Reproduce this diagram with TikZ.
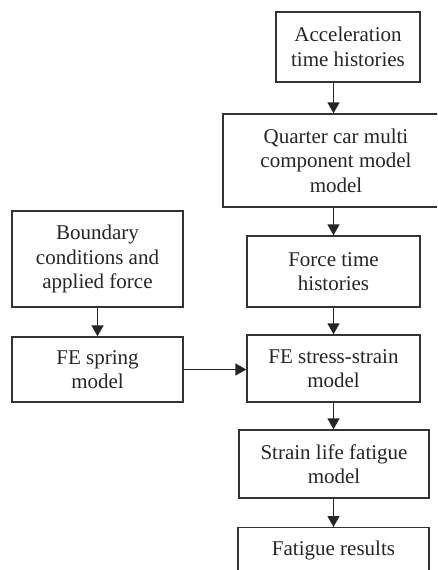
\documentclass[tikz,border=0pt]{standalone}
\usepackage{fontspec}
\setmainfont{Liberation Serif}
\usetikzlibrary{arrows.meta}
\begin{document}
\begin{tikzpicture}[x=1pt,y=-1pt,
  box/.style={draw=black!80, line width=1.4pt, align=center, inner sep=0pt,
    font=\fontsize{21}{24.5}\selectfont, text=black!85},
  arr/.style={draw=black!85, line width=1.5pt, -{Triangle[length=11pt,width=12pt]}}]
\clip (0,0) rectangle (437,570);
\fill[white] (0,0) rectangle (437,570);
\node[box, minimum width=144pt, minimum height=70pt] (acc) at (348,47) {Acceleration\\time histories};
\node[box, minimum width=226pt, minimum height=93pt] (quarter) at (336,160.5) {Quarter car multi\\component model\\model};
\node[box, minimum width=173pt, minimum height=71pt] (force) at (333.5,271.5) {Force time\\histories};
\node[box, minimum width=171pt, minimum height=96pt] (bound) at (97.5,259) {Boundary\\conditions and\\applied force};
\node[box, minimum width=171pt, minimum height=65pt] (spring) at (97.5,369.5) {FE spring\\model};
\node[box, minimum width=173pt, minimum height=67pt] (stress) at (333.5,368.5) {FE stress-strain\\model};
\node[box, minimum width=190pt, minimum height=68pt] (strain) at (334,464) {Strain life fatigue\\model};
\node[box, minimum width=191pt, anchor=north, text height=28pt, text depth=20pt] (fatigue) at (333.5,527) {Fatigue results};
\coordinate (ax) at (333.5,0);
\draw[arr] (acc.south -| ax) -- (quarter.north -| ax);
\draw[arr] (quarter.south -| ax) -- (force.north -| ax);
\draw[arr] (force.south -| ax) -- (stress.north -| ax);
\draw[arr] (stress.south -| ax) -- (strain.north -| ax);
\draw[arr] (strain.south -| ax) -- (fatigue.north -| ax);
\draw[arr] (bound.south) -- (spring.north);
\draw[arr] (spring.east) -- (spring.east -| stress.west);
\end{tikzpicture}
\end{document}
